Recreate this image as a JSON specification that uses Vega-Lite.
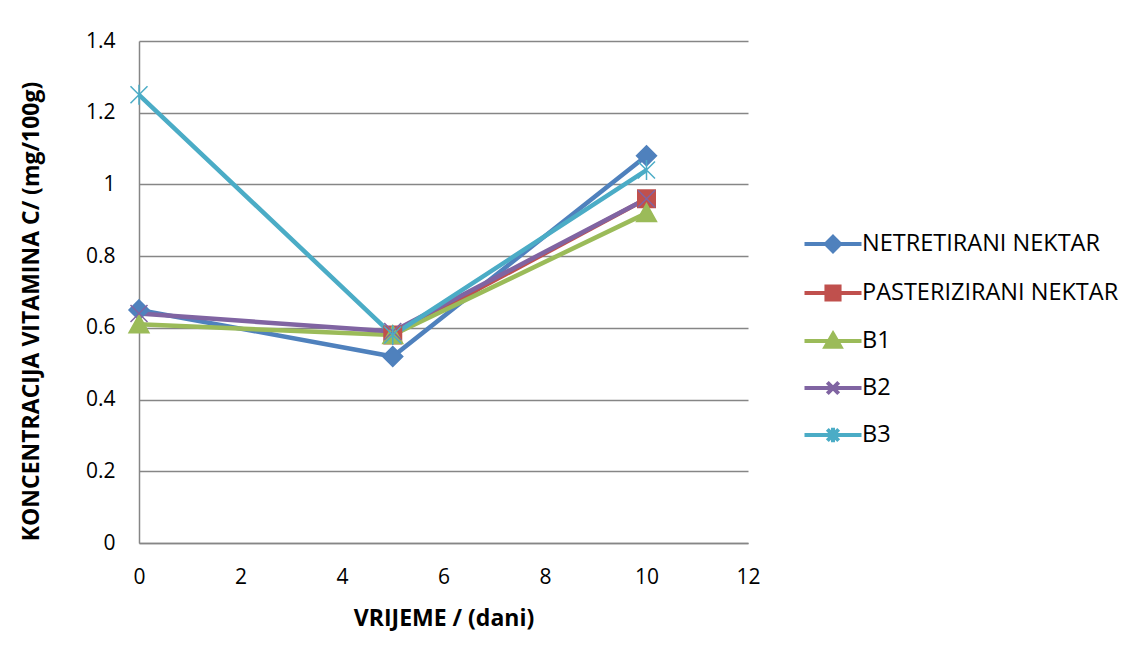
{
  "$schema": "https://vega.github.io/schema/vega-lite/v6.json",
  "width": 609,
  "height": 502,
  "autosize": {"type": "none"},
  "padding": {"left": 139, "top": 41, "right": 384, "bottom": 114},
  "background": "white",
  "config": {
    "font": "Open Sans",
    "view": {"stroke": null},
    "axis": {
      "labelFont": "Open Sans",
      "titleFont": "Open Sans",
      "labelFontSize": 21,
      "titleFontSize": 23,
      "titleFontWeight": "bold",
      "labelColor": "black",
      "titleColor": "black",
      "labelFlush": false,
      "domainColor": "#868686",
      "domainWidth": 1.5,
      "gridColor": "#868686",
      "gridWidth": 1.3,
      "ticks": false
    }
  },
  "data": {
    "values": [
      {"serija": "NETRETIRANI NEKTAR", "dan": 0, "vit": 0.65},
      {"serija": "NETRETIRANI NEKTAR", "dan": 5, "vit": 0.52},
      {"serija": "NETRETIRANI NEKTAR", "dan": 10, "vit": 1.08},
      {"serija": "PASTERIZIRANI NEKTAR", "dan": 5, "vit": 0.58},
      {"serija": "PASTERIZIRANI NEKTAR", "dan": 10, "vit": 0.96},
      {"serija": "B1", "dan": 0, "vit": 0.61},
      {"serija": "B1", "dan": 5, "vit": 0.58},
      {"serija": "B1", "dan": 10, "vit": 0.92},
      {"serija": "B2", "dan": 0, "vit": 0.64},
      {"serija": "B2", "dan": 5, "vit": 0.59},
      {"serija": "B2", "dan": 10, "vit": 0.96},
      {"serija": "B3", "dan": 0, "vit": 1.25},
      {"serija": "B3", "dan": 5, "vit": 0.58},
      {"serija": "B3", "dan": 10, "vit": 1.04}
    ]
  },
  "encoding": {
    "x": {
      "field": "dan", "type": "quantitative",
      "scale": {"domain": [0, 12], "nice": false},
      "axis": {"values": [0, 2, 4, 6, 8, 10, 12], "grid": false, "labelFlush": false, "labelPadding": 23, "title": "VRIJEME / (dani)", "titlePadding": 20}
    },
    "y": {
      "field": "vit", "type": "quantitative",
      "scale": {"domain": [0, 1.4], "nice": false},
      "axis": {"values": [0, 0.2, 0.4, 0.6, 0.8, 1, 1.2, 1.4], "format": ".1~f", "labelFlush": false, "labelPadding": 24, "title": "KONCENTRACIJA VITAMINA C/ (mg/100g)", "titlePadding": 42, "titleY": 270}
    }
  },
  "layer": [
    {
      "mark": {"type": "line", "strokeWidth": 4.5},
      "encoding": {
        "color": {
          "field": "serija", "type": "nominal",
          "scale": {
            "domain": ["NETRETIRANI NEKTAR", "PASTERIZIRANI NEKTAR", "B1", "B2", "B3"],
            "range": ["#4F81BD", "#C0504D", "#9BBB59", "#8064A2", "#4BACC6"]
          },
          "legend": {
            "orient": "none",
            "legendX": 663,
            "legendY": 172,
            "title": null,
            "labelFont": "Open Sans",
            "labelFontSize": 23.5,
            "labelColor": "black",
            "labelLimit": 400,
            "symbolSize": 3250,
            "labelOffset": -2,
            "rowPadding": 2,
            "encode": {
              "symbols": {
                "update": {
                  "shape": {"signal": "datum.value === 'NETRETIRANI NEKTAR' ? 'M-1,0H1M0,-0.25L0.25,0L0,0.25L-0.25,0Z' : datum.value === 'PASTERIZIRANI NEKTAR' ? 'M-1,0H1M-0.23,-0.23H0.23V0.23H-0.23Z' : datum.value === 'B1' ? 'M-1,0H1M0,-0.25L0.26,0.2L-0.26,0.2Z' : datum.value === 'B2' ? 'M-1,0H1M-0.2,-0.2L0.2,0.2M-0.2,0.2L0.2,-0.2' : 'M-1,0H1M-0.2,-0.2L0.2,0.2M-0.2,0.2L0.2,-0.2M0,-0.25V0.25'"},
                  "fill": {"signal": "scale('color', datum.value)"},
                  "stroke": {"signal": "scale('color', datum.value)"},
                  "strokeWidth": {"value": 4},
                  "opacity": {"value": 1}
                }
              }
            }
          }
        }
      }
    },
    {
      "transform": [{"filter": "datum.serija === 'NETRETIRANI NEKTAR'"}],
      "mark": {"type": "point", "shape": "M0,-2L2,0L0,2L-2,0Z", "fill": "#4F81BD", "stroke": "#4F81BD", "filled": true, "size": 100, "opacity": 1, "strokeWidth": 1.5}
    },
    {
      "transform": [{"filter": "datum.serija === 'PASTERIZIRANI NEKTAR'"}],
      "mark": {"type": "point", "shape": "M-1.75,-1.75H1.75V1.75H-1.75Z", "fill": "#C0504D", "stroke": "#C0504D", "filled": true, "size": 100, "opacity": 1, "strokeWidth": 1.5}
    },
    {
      "transform": [{"filter": "datum.serija === 'B1'"}],
      "mark": {"type": "point", "shape": "M0,-1.9L2,1.7L-2,1.7Z", "fill": "#9BBB59", "stroke": "#9BBB59", "filled": true, "size": 100, "opacity": 1, "strokeWidth": 1.5}
    },
    {
      "transform": [{"filter": "datum.serija === 'B2'"}],
      "mark": {"type": "point", "shape": "M-1.7,-1.7L1.7,1.7M-1.7,1.7L1.7,-1.7", "fill": "#8064A2", "stroke": "#8064A2", "filled": true, "size": 100, "opacity": 1, "strokeWidth": 1.5}
    },
    {
      "transform": [{"filter": "datum.serija === 'B3'"}],
      "mark": {"type": "point", "shape": "M-1.7,-1.7L1.7,1.7M-1.7,1.7L1.7,-1.7M0,-2V2", "fill": "#4BACC6", "stroke": "#4BACC6", "filled": true, "size": 100, "opacity": 1, "strokeWidth": 1.5}
    }
  ]
}
